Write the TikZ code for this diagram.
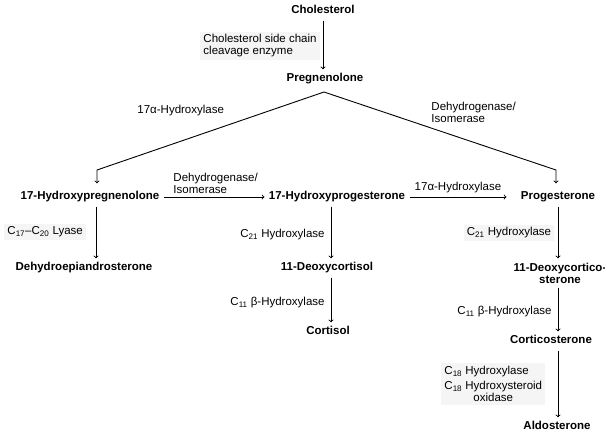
\documentclass[tikz,border=0pt]{standalone}
\usepackage{fontspec}
\setmainfont{Liberation Sans}
\begin{document}
\begin{tikzpicture}[x=1pt,y=-1pt,line width=0.9pt,
  cfont/.style={font=\fontsize{11.5}{12}\selectfont\bfseries,inner sep=4pt},
  cmpd/.style={cfont,text height=8pt,text depth=2.5pt},
  enz/.style={font=\fontsize{11.5}{12}\selectfont,inner sep=2pt},
  enzbox/.style={enz,inner sep=3pt,fill=black!4}]
\useasboundingbox (0,0) rectangle (605,437);
% compounds
\node[cmpd] (chol) at (323,11) {Cholesterol};
\node[cmpd] (preg) at (325,79) {Pregnenolone};
\node[cmpd] (ohpreg) at (90,197) {17-Hydroxypregnenolone};
\node[cmpd] (ohprog) at (337,197) {17-Hydroxyprogesterone};
\node[cmpd] (prog) at (558,197) {Progesterone};
\node[cmpd] (dhea) at (84,268) {Dehydroepiandrosterone};
\node[cmpd] (deoxcort) at (327,268) {11-Deoxycortisol};
\node[cmpd] (cort) at (328,332) {Cortisol};
\node[cfont,align=center] (doc) at (560,273) {11-Deoxycortico-\\sterone};
\node[cmpd] (corticost) at (551,341) {Corticosterone};
\node[cmpd] (aldo) at (557,427) {Aldosterone};
% enzymes
\node[enzbox,align=left,anchor=west] (scc) at (200,46) {Cholesterol side chain\\cleavage enzyme};
\node[enz,anchor=west] (hyda) at (135,111) {17α-Hydroxylase};
\node[enz,align=left,anchor=west] (dhisoa) at (429,112) {Dehydrogenase/\\Isomerase};
\node[enz,align=left,anchor=west] (dhisob) at (171,183) {Dehydrogenase/\\Isomerase};
\node[enz] (hydb) at (458,188) {17α-Hydroxylase};
\node[enzbox,anchor=west] (lyase) at (4,232) {C\textsubscript{17}–C\textsubscript{20} Lyase};
\node[enz,anchor=east] (cxxia) at (327,235) {C\textsubscript{21} Hydroxylase};
\node[enzbox] (cxxib) at (509,233) {C\textsubscript{21} Hydroxylase};
\node[enz,anchor=east] (cxia) at (327,303) {C\textsubscript{11} β-Hydroxylase};
\node[enz,anchor=east] (cxib) at (554,312) {C\textsubscript{11} β-Hydroxylase};
\node[enzbox,align=left,anchor=west] (cxviii) at (441,384) {C\textsubscript{18} Hydroxylase\\[3pt]C\textsubscript{18} Hydroxysteroid\\\hspace*{29pt}oxidase};
% columns and corners
\coordinate (lcol) at (96,0);
\coordinate (mcol) at (331,0);
\coordinate (rcol) at (558,0);
\coordinate (fork) at (324,92);
\coordinate (lcorner) at (97,170);
\coordinate (rcorner) at (556,170);
% reactions
\draw[->] (chol.south) -- (chol.south |- preg.north);
\draw[->,shorten >=4pt] (fork) -- (lcorner) -- (lcorner |- ohpreg.north);
\draw[->,shorten >=4pt] (fork) -- (rcorner) -- (rcorner |- prog.north);
\draw[->] (ohpreg.east) -- (ohprog.west);
\draw[->,shorten >=10pt] (ohprog.east) -- (prog.west);
\draw[->] (ohpreg.south -| lcol) -- (dhea.north -| lcol);
\draw[->] (ohprog.south -| mcol) -- (deoxcort.north -| mcol);
\draw[->] (deoxcort.south -| mcol) -- (cort.north -| mcol);
\draw[->] (prog.south -| rcol) -- (doc.north -| rcol);
\draw[->] (doc.south -| rcol) -- (corticost.north -| rcol);
\draw[->] (corticost.south -| rcol) -- (aldo.north -| rcol);
\end{tikzpicture}
\end{document}
